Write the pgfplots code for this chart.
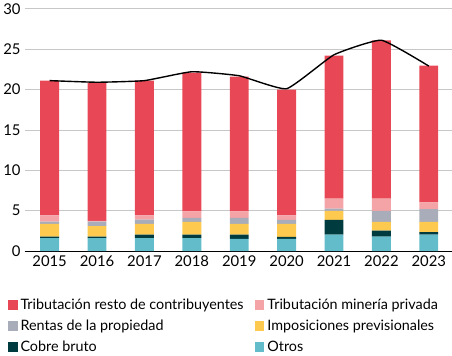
\documentclass[border=0pt]{standalone}
\usepackage{fontspec}
\setmainfont{Lato}
\usepackage{pgfplots}
\pgfplotsset{compat=1.18}
\definecolor{cResto}{HTML}{E84855}
\definecolor{cMin}{HTML}{F4A3A6}
\definecolor{cRent}{HTML}{A9ADB9}
\definecolor{cImp}{HTML}{FDC94F}
\definecolor{cCobre}{HTML}{003B40}
\definecolor{cOtros}{HTML}{62BCC9}
\begin{document}
\begin{tikzpicture}
\pgfplotsset{
  sq/.style={legend image code/.code={\fill[##1] (0bp,-5bp) rectangle (10bp,5bp);}}
}
\begin{axis}[
  scale only axis, width=430bp, height=244bp,
  ybar stacked, bar width=19bp,
  xmin=-0.53, xmax=8.48, ymin=0, ymax=30,
  xtick={0,...,8}, xticklabels={2015,2016,2017,2018,2019,2020,2021,2022,2023},
  ytick={0,5,...,30},
  ymajorgrids, grid style={black!22, line width=0.8pt},
  axis x line*=bottom, axis y line*=left,
  x axis line style={black, line width=0.9pt, -},
  y axis line style={draw=none},
  major tick length=0pt,
  /pgf/number format/assume math mode=true,
  tick label style={font=\fontsize{15}{15}\selectfont},
  yticklabel style={xshift=-0.5bp},
  xticklabel style={yshift=-1bp},
  reverse legend,
  legend columns=2,
  legend style={at={(-0.04,-0.19)}, anchor=north west, draw=none, fill=none, inner sep=0pt,
    font=\fontsize{14.5}{14.5}\selectfont, row sep=5bp,
    /tikz/every even column/.append style={column sep=9bp},
    /tikz/every odd column/.append style={column sep=1bp},
    cells={anchor=west}},
  legend cell align=left,
]
\addplot[fill=cOtros, draw=none, sq] coordinates {(0,1.6)(1,1.6)(2,1.6)(3,1.6)(4,1.5)(5,1.5)(6,2.05)(7,1.8)(8,2.05)};
\addlegendentry{Otros}
\addplot[fill=cCobre, draw=none, sq] coordinates {(0,0.2)(1,0.2)(2,0.45)(3,0.45)(4,0.55)(5,0.26)(6,1.8)(7,0.74)(8,0.29)};
\addlegendentry{Cobre bruto}
\addplot[fill=cImp, draw=none, sq] coordinates {(0,1.56)(1,1.3)(2,1.31)(3,1.55)(4,1.31)(5,1.6)(6,1.11)(7,1.06)(8,1.26)};
\addlegendentry{Imposiciones previsionales}
\addplot[fill=cRent, draw=none, sq] coordinates {(0,0.29)(1,0.55)(2,0.54)(3,0.5)(4,0.74)(5,0.49)(6,0.29)(7,1.36)(8,1.6)};
\addlegendentry{Rentas de la propiedad}
\addplot[fill=cMin, draw=none, sq] coordinates {(0,0.78)(1,0.1)(2,0.53)(3,0.82)(4,0.82)(5,0.58)(6,1.25)(7,1.54)(8,0.82)};
\addlegendentry{Tributación minería privada}
\addplot[fill=cResto, draw=none, sq] coordinates {(0,16.67)(1,17.11)(2,16.67)(3,17.18)(4,16.68)(5,15.57)(6,17.7)(7,19.57)(8,16.93)};
\addlegendentry{Tributación resto de contribuyentes}
\end{axis}
\begin{axis}[
  scale only axis, width=430bp, height=244bp,
  xmin=-0.53, xmax=8.48, ymin=0, ymax=30,
  hide axis,
]
\addplot[black, line width=1.4bp, smooth, tension=0.25] coordinates {(0,21.1)(1,20.9)(2,21.1)(3,22.2)(4,21.7)(5,20.1)(6,24.3)(7,26.1)(8,22.9)};
\end{axis}
\end{tikzpicture}
\end{document}
